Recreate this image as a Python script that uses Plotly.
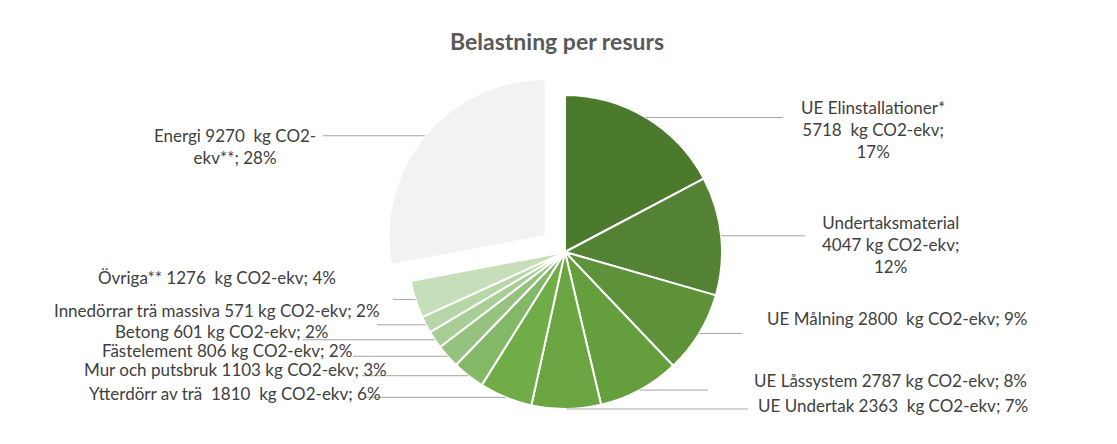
import math
import plotly.graph_objects as go

# ---------------- data ----------------
categories = [
    "UE Elinstallationer*", "Undertaksmaterial", "UE Målning", "UE Låssystem",
    "UE Undertak", "Ytterdörr av trä", "Mur och putsbruk", "Fästelement",
    "Betong", "Innedörrar trä massiva", "Övriga**", "Energi",
]
values = [5718, 4047, 2800, 2787, 2363, 1810, 1103, 806, 601, 571, 1276, 9270]
label_texts = [
    "UE Elinstallationer*<br>5718  kg CO2-ekv;<br>17%",
    "Undertaksmaterial<br>4047 kg CO2-ekv;<br>12%",
    "UE Målning 2800  kg CO2-ekv; 9%",
    "UE Låssystem 2787 kg CO2-ekv; 8%",
    "UE Undertak 2363  kg CO2-ekv; 7%",
    "Ytterdörr av trä  1810  kg CO2-ekv; 6%",
    "Mur och putsbruk 1103 kg CO2-ekv; 3%",
    "Fästelement 806 kg CO2-ekv; 2%",
    "Betong 601 kg CO2-ekv; 2%",
    "Innedörrar trä massiva 571 kg CO2-ekv; 2%",
    "Övriga** 1276  kg CO2-ekv; 4%",
    "Energi 9270  kg CO2-<br>ekv**; 28%",
]
title_text = "Belastning per resurs"

# ---------------- styles / layout ----------------
colors = ["#4b7a2c", "#548235", "#5d9238", "#659e3d", "#6aa542", "#70ad47",
          "#82b866", "#95c27f", "#a9ce95", "#b8d7a8", "#c6dfba", "#f2f2f2"]
pulls = [0, 0, 0, 0, 0, 0, 0, 0, 0, 0, 0, 0.16]

W, H = 1117, 444
CX, CY, R = 565, 252, 157          # pie centre / radius in pixels
# label centre (x, y) in pixels and leader-line end x
label_pos = [
    (873, 129), (890, 244), (897, 318), (890, 380), (893, 405),
    (235, 403), (235, 378), (227, 358), (221, 342), (217, 328),
    (217, 287), (235, 146),
]
label_dy = [0, 0, 0, 0, 0, -10, -9, -8, -11, -18, -10, 0]
line_end_x = [783, 805, 742, 708, 748, 365, 362, 353, 303, 377, 393, 323]

maxpull = max(pulls)
half = R * (1 + maxpull)
dom_x = [(CX - half) / W, (CX + half) / W]
dom_y = [(H - CY - half) / H, (H - CY + half) / H]

fig = go.Figure()
fig.add_trace(go.Pie(
    labels=categories, values=values, sort=False, direction="clockwise",
    rotation=0, pull=pulls, textinfo="none", hoverinfo="label+value+percent",
    marker=dict(colors=colors, line=dict(color="white", width=2)),
    domain=dict(x=dom_x, y=dom_y), showlegend=False,
))

total = sum(values)
cum = 0
shapes = []
annotations = []
for i, v in enumerate(values):
    mid = (cum + v / 2) / total * 2 * math.pi
    cum += v
    ox = CX + pulls[i] * R * math.sin(mid)
    oy = CY - pulls[i] * R * math.cos(mid)
    px = ox + R * math.sin(mid)
    py = oy - R * math.cos(mid)
    shapes.append(dict(type="line", xref="paper", yref="paper",
                       x0=px / W, y0=1 - py / H,
                       x1=line_end_x[i] / W, y1=1 - py / H,
                       line=dict(color="#a6a6a6", width=1)))
    lx, ly = label_pos[i]
    annotations.append(dict(
        text=label_texts[i], xref="paper", yref="paper",
        x=lx / W, y=1 - (ly + label_dy[i]) / H, xanchor="center", yanchor="middle",
        showarrow=False, align="center",
        font=dict(family="Lato, 'Open Sans', sans-serif", size=17, color="#404040"),
    ))

annotations.append(dict(
    text="<b>" + title_text + "</b>", xref="paper", yref="paper",
    x=557 / W, y=1 - 41 / H, xanchor="center", yanchor="middle", showarrow=False,
    font=dict(family="Lato, 'Open Sans', sans-serif", size=23, color="#595959"),
))

fig.update_layout(
    width=W, height=H, margin=dict(l=0, r=0, t=0, b=0),
    paper_bgcolor="white", plot_bgcolor="white",
    shapes=shapes, annotations=annotations,
)
fig.write_html("out.html")
